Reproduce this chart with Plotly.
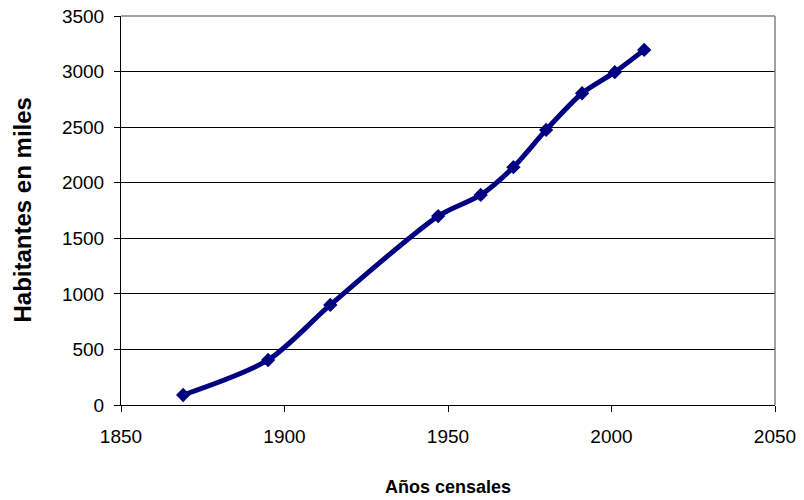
import plotly.graph_objects as go

years = [1869, 1895, 1914, 1947, 1960, 1970, 1980, 1991, 2001, 2010]
habitantes = [90, 405, 900, 1700, 1890, 2140, 2475, 2805, 2995, 3195]

x_ticks = [1850, 1900, 1950, 2000, 2050]
y_ticks = [0, 500, 1000, 1500, 2000, 2500, 3000, 3500]

fig = go.Figure()
fig.add_trace(go.Scatter(
    x=years, y=habitantes, mode="lines+markers",
    line=dict(color="#000080", width=5, shape="spline", smoothing=0.8),
    marker=dict(symbol="diamond", size=11, color="#000080"),
    showlegend=False,
))

font_family = "Liberation Sans, Arial, sans-serif"
fig.update_layout(
    width=804, height=500,
    margin=dict(l=121, r=29, t=16, b=95, autoexpand=False),
    paper_bgcolor="white", plot_bgcolor="white",
    font=dict(family=font_family, size=19, color="black"),
    xaxis=dict(
        range=[1850, 2050], tickvals=x_ticks, ticks="outside", ticklen=6,
        tickcolor="black", showline=True, linecolor="black", linewidth=1,
        showgrid=False, zeroline=False, automargin=False,
        tickfont=dict(size=19), ticklabelstandoff=8,
    ),
    yaxis=dict(
        range=[0, 3500], tickvals=y_ticks, ticks="outside", ticklen=6,
        tickcolor="black", showline=True, linecolor="black", linewidth=1,
        showgrid=True, gridcolor="black", gridwidth=1, zeroline=False,
        automargin=False, tickfont=dict(size=19), ticklabelstandoff=6,
    ),
    annotations=[
        dict(text="<b>Años censales</b>", xref="paper", yref="paper",
             x=0.5, y=0, xanchor="center", yanchor="middle", yshift=-82,
             showarrow=False, font=dict(size=18, family=font_family)),
        dict(text="<b>Habitantes en miles</b>", xref="paper", yref="paper",
             x=0, y=0.5, xanchor="center", yanchor="middle", xshift=-99,
             textangle=-90, showarrow=False,
             font=dict(size=24, family=font_family)),
    ],
    shapes=[
        dict(type="line", xref="paper", yref="paper", x0=0, x1=1, y0=1, y1=1,
             line=dict(color="#808080", width=1.5)),
        dict(type="line", xref="paper", yref="paper", x0=1, x1=1, y0=0, y1=1,
             line=dict(color="#808080", width=1.5)),
    ],
)

fig.write_html(
    "out.html",
    config={"displayModeBar": False},
    post_script="document.body.style.margin='0';document.body.style.padding='0';",
)
